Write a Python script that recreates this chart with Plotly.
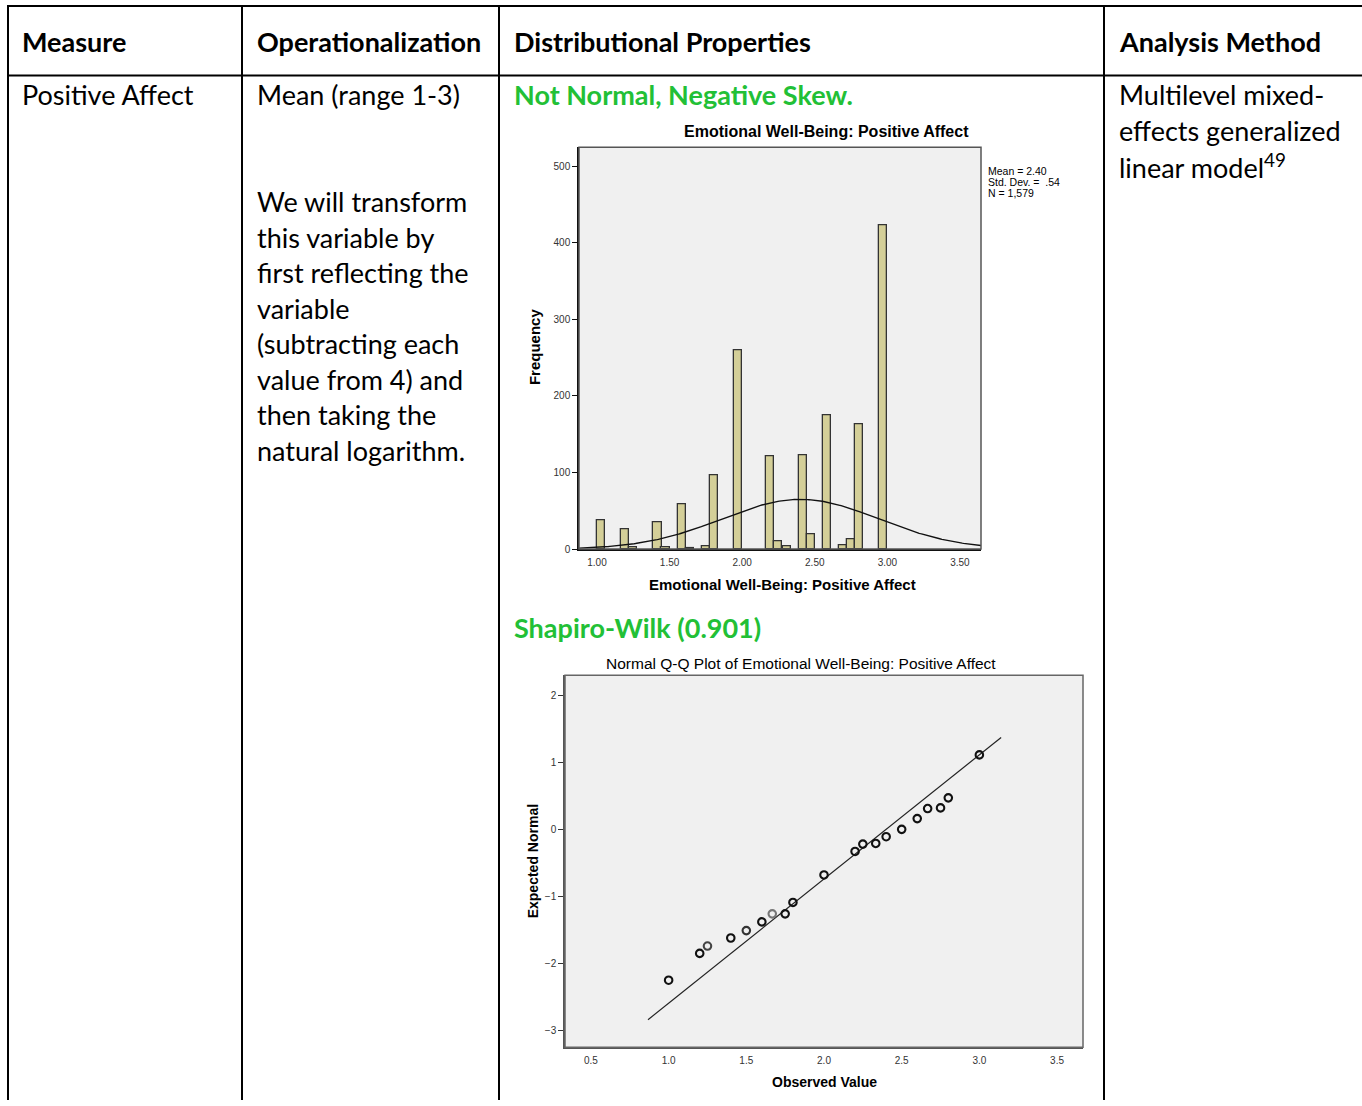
import numpy as np
import plotly.graph_objects as go

W, H = 1362, 1106

# ---- Histogram: Emotional Well-Being: Positive Affect ----
bin_width = 1 / 18
bin_lower = [1.000, 1.167, 1.222, 1.389, 1.444, 1.556, 1.611, 1.722, 1.778, 1.944,
             2.167, 2.222, 2.278, 2.389, 2.444, 2.556, 2.667, 2.722, 2.778, 2.944]
bin_count = [38, 26, 2, 35, 2, 59, 1, 4, 96, 260,
             121, 10, 4, 122, 19, 175, 5, 13, 163, 423]
mean_pa, sd_pa, n_pa = 2.40, 0.54, 1579
hist_xticks = [1.0, 1.5, 2.0, 2.5, 3.0, 3.5]
hist_xticktext = ["1.00", "1.50", "2.00", "2.50", "3.00", "3.50"]
hist_yticks = [0, 100, 200, 300, 400, 500]

# ---- Normal Q-Q plot ----
qq_observed = [1.0, 1.2, 1.25, 1.4, 1.5, 1.6, 1.667, 1.75, 1.8, 2.0,
               2.2, 2.25, 2.333, 2.4, 2.5, 2.6, 2.667, 2.75, 2.8, 3.0]
qq_expected = [-2.25, -1.85, -1.74, -1.62, -1.51, -1.38, -1.26, -1.26, -1.09, -0.68,
               -0.33, -0.22, -0.21, -0.11, 0.0, 0.16, 0.31, 0.32, 0.47, 1.11]
qq_line_x = [0.867, 3.14]
qq_xticks = [0.5, 1.0, 1.5, 2.0, 2.5, 3.0, 3.5]
qq_yticks = [-3, -2, -1, 0, 1, 2]

# ---- Table text ----
headers = ["Measure", "Operationalization", "Distributional Properties", "Analysis Method"]
measure = "Positive Affect"
operationalization = "Mean (range 1-3)"
transform_lines = ["We will transform", "this variable by", "first reflecting the", "variable",
                   "(subtracting each", "value from 4) and", "then taking the", "natural logarithm."]
distribution_note = "Not Normal, Negative Skew."
normality_test = "Shapiro-Wilk (0.901)"
method_lines = ["Multilevel mixed-", "effects generalized", "linear model<sup>49</sup>"]

TABLE_FONT = "Lato, Carlito, 'Open Sans', sans-serif"
CHART_FONT = "'Liberation Sans', Arial, sans-serif"
GREEN = "#22c036"


def px(x):
    return x / W


def py(y):
    return 1 - y / H


fig = go.Figure()

# histogram bars
centers = [b + bin_width / 2 for b in bin_lower]
fig.add_trace(go.Bar(
    x=centers, y=bin_count, width=bin_width,
    marker=dict(color="#d4cf98", line=dict(color="#333333", width=1.3)),
    xaxis="x", yaxis="y", showlegend=False, hoverinfo="skip"))

# fitted normal curve from mean, sd and N
cx = np.linspace(0.876, 3.645, 300)
cy = n_pa * bin_width / (sd_pa * np.sqrt(2 * np.pi)) * np.exp(-0.5 * ((cx - mean_pa) / sd_pa) ** 2)
fig.add_trace(go.Scatter(x=cx, y=cy, mode="lines", line=dict(color="#111111", width=1.4),
                         xaxis="x", yaxis="y", showlegend=False, hoverinfo="skip"))

# Q-Q reference line and points
qq_line_y = [(v - mean_pa) / sd_pa for v in qq_line_x]
fig.add_trace(go.Scatter(x=qq_line_x, y=qq_line_y, mode="lines",
                         line=dict(color="#222222", width=1.2),
                         xaxis="x2", yaxis="y2", showlegend=False, hoverinfo="skip"))
pt_colors = ["#111111"] * len(qq_observed)
pt_colors[2] = "#444444"
pt_colors[4] = "#333333"
pt_colors[6] = "#777777"
fig.add_trace(go.Scatter(x=qq_observed, y=qq_expected, mode="markers",
                         marker=dict(symbol="circle-open", size=7.5, color=pt_colors,
                                     line=dict(width=2.1)),
                         xaxis="x2", yaxis="y2", showlegend=False, hoverinfo="skip"))

tick_font = dict(family=CHART_FONT, size=10, color="#333333")

fig.update_layout(
    width=W, height=H,
    margin=dict(l=0, r=0, t=0, b=0),
    paper_bgcolor="white",
    plot_bgcolor="#f0f0f0",
    bargap=0,
    xaxis=dict(domain=[px(579), px(981)], range=[0.876, 3.645],
               tickvals=hist_xticks, ticktext=hist_xticktext, tickfont=tick_font,
               ticks="outside", ticklen=3, tickcolor="rgba(0,0,0,0)",
               showgrid=False, zeroline=False, showline=True, linecolor="#111111", linewidth=1.5,
               anchor="y", fixedrange=True),
    yaxis=dict(domain=[py(552), py(148)], range=[0, 524.7],
               tickvals=hist_yticks, tickfont=tick_font,
               ticks="outside", ticklen=5, tickcolor="#111111", tickwidth=1,
               showgrid=False, zeroline=False, showline=True, linecolor="#111111", linewidth=1.5,
               anchor="x", fixedrange=True),
    xaxis2=dict(domain=[px(565), px(1083)], range=[0.333, 3.667],
                tickvals=qq_xticks, ticktext=[f"{v:.1f}" for v in qq_xticks], tickfont=tick_font,
                ticks="outside", ticklen=3, tickcolor="rgba(0,0,0,0)",
                showgrid=False, zeroline=False, showline=True, linecolor="#555555", linewidth=1.5,
                anchor="y2", fixedrange=True),
    yaxis2=dict(domain=[py(1053), py(679)], range=[-3.25, 2.297],
                tickvals=qq_yticks, tickfont=tick_font,
                ticks="outside", ticklen=5, tickcolor="#333333", tickwidth=1,
                showgrid=False, zeroline=False, showline=True, linecolor="#555555", linewidth=1.5,
                anchor="x2", fixedrange=True),
)

# chart frames
fig.add_shape(type="rect", xref="x domain", yref="y domain", x0=0, x1=1, y0=0, y1=1,
              line=dict(color="#555555", width=1.5), layer="above")
fig.add_shape(type="rect", xref="x2 domain", yref="y2 domain", x0=0, x1=1, y0=0, y1=1,
              line=dict(color="#666666", width=1.5), layer="above")

# table rules
rule = dict(color="black", width=2)
fig.add_shape(type="line", xref="paper", yref="paper", x0=px(7), x1=1, y0=py(6), y1=py(6), line=rule)
fig.add_shape(type="line", xref="paper", yref="paper", x0=px(7), x1=1, y0=py(76), y1=py(76), line=rule)
for xv in [8, 242, 499, 1104]:
    fig.add_shape(type="line", xref="paper", yref="paper", x0=px(xv), x1=px(xv),
                  y0=py(6), y1=0, line=rule)


def text(x, y, s, size, family=TABLE_FONT, color="black", bold=False, anchor="left", angle=0):
    fig.add_annotation(x=px(x), y=py(y), xref="paper", yref="paper", text=s, showarrow=False,
                       xanchor=anchor, yanchor="middle", textangle=angle,
                       font=dict(family=family, size=size, color=color,
                                 weight="bold" if bold else "normal"),
                       borderpad=0)


TS = 27
for xh, h in zip([22, 257, 514, 1119], headers):
    text(xh - 1, 42, h, TS, bold=True)
text(21, 95, measure, TS)
text(256, 95, operationalization, TS)
for i, line in enumerate(transform_lines):
    text(256, 203 + i * 35.7, line, TS)
text(513, 95, distribution_note, TS, color=GREEN, bold=True)
text(513, 631, normality_test, TS, color=GREEN, bold=True)
for i, line in enumerate(method_lines):
    text(1118, 95 + i * 36, line, TS)

# histogram labels
text(827, 132, "Emotional Well-Being: Positive Affect", 16, family=CHART_FONT, bold=True, anchor="center")
text(782, 588, "Emotional Well-Being: Positive Affect", 15, family=CHART_FONT, bold=True, anchor="center")
text(534, 349, "Frequency", 15, family=CHART_FONT, bold=True, anchor="center", angle=-90)
stats = [f"Mean = {mean_pa:.2f}", f"Std. Dev. =  {sd_pa:.2f}".replace("0.", "."), f"N = {n_pa:,}"]
for i, s in enumerate(stats):
    text(987, 172 + i * 11, s, 10.5, family=CHART_FONT)

# Q-Q labels
text(801, 667, "Normal Q-Q Plot of Emotional Well-Being: Positive Affect", 15.5, family=CHART_FONT,
     anchor="center")
text(533, 866, "Expected Normal", 14, family=CHART_FONT, bold=True, anchor="center", angle=-90)
text(824, 1088, "Observed Value", 14, family=CHART_FONT, bold=True, anchor="center")

fig.write_html("out.html")
